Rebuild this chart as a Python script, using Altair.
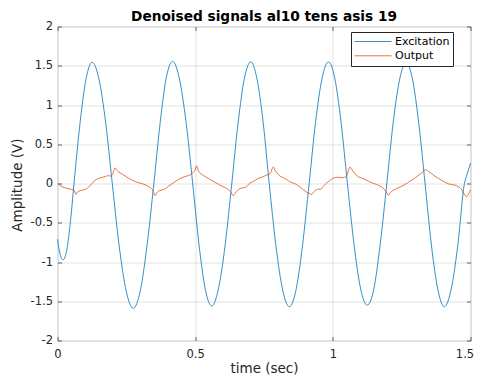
import altair as alt
import pandas as pd

# ---- data ----
t_exc = [0.000, 0.007, 0.014, 0.021, 0.034, 0.047, 0.060, 0.082, 0.104, 0.126,
         0.150, 0.175, 0.199, 0.224, 0.250, 0.275, 0.300, 0.325, 0.350, 0.373,
         0.395, 0.418, 0.442, 0.467, 0.491, 0.514, 0.537, 0.560, 0.584, 0.609,
         0.633, 0.656, 0.679, 0.702, 0.724, 0.747, 0.769, 0.793, 0.818, 0.842,
         0.866, 0.890, 0.914, 0.937, 0.961, 0.984, 1.007, 1.030, 1.053, 1.077,
         1.101, 1.125, 1.149, 1.172, 1.196, 1.219, 1.243, 1.266, 1.289, 1.312,
         1.335, 1.358, 1.382, 1.405, 1.429, 1.454, 1.478, 1.487, 1.500]
v_exc = [-0.71, -0.86, -0.95, -0.97, -0.84, -0.485, 0.0, 0.773, 1.338, 1.545,
         1.338, 0.773, 0.0, -0.795, -1.377, -1.59, -1.377, -0.795, 0.0, 0.778,
         1.347, 1.555, 1.347, 0.778, 0.0, -0.78, -1.351, -1.56, -1.351, -0.78,
         0.0, 0.775, 1.342, 1.55, 1.342, 0.775, 0.0, -0.785, -1.36, -1.57,
         -1.36, -0.785, 0.0, 0.775, 1.342, 1.55, 1.342, 0.775, 0.0, -0.775,
         -1.342, -1.55, -1.342, -0.775, 0.0, 0.77, 1.334, 1.54, 1.334, 0.77,
         0.0, -0.785, -1.36, -1.57, -1.36, -0.785, 0.0, 0.11, 0.26]

t_out = [0.000, 0.012, 0.027, 0.040, 0.052, 0.060, 0.067, 0.072, 0.078, 0.090,
         0.100, 0.112, 0.124, 0.136, 0.150, 0.165, 0.178, 0.185, 0.194, 0.200,
         0.209, 0.215, 0.223, 0.235, 0.250, 0.265, 0.282, 0.300, 0.318, 0.330,
         0.342, 0.348, 0.354, 0.360, 0.366, 0.378, 0.390, 0.403, 0.415, 0.427,
         0.439, 0.452, 0.469, 0.481, 0.493, 0.500, 0.505, 0.512, 0.524, 0.538,
         0.554, 0.570, 0.590, 0.605, 0.615, 0.627, 0.639, 0.645, 0.651, 0.663,
         0.675, 0.687, 0.699, 0.711, 0.729, 0.742, 0.755, 0.766, 0.772, 0.784,
         0.790, 0.796, 0.808, 0.820, 0.833, 0.845, 0.857, 0.869, 0.881, 0.893,
         0.905, 0.917, 0.923, 0.929, 0.935, 0.947, 0.955, 0.966, 0.978, 0.990,
         1.002, 1.020, 1.038, 1.050, 1.062, 1.068, 1.074, 1.084, 1.093, 1.105,
         1.117, 1.129, 1.141, 1.153, 1.165, 1.175, 1.183, 1.190, 1.196, 1.202,
         1.208, 1.214, 1.224, 1.232, 1.247, 1.262, 1.280, 1.299, 1.317, 1.329,
         1.337, 1.347, 1.359, 1.371, 1.384, 1.396, 1.408, 1.420, 1.432, 1.444,
         1.455, 1.462, 1.468, 1.474, 1.480, 1.486, 1.492, 1.500]
v_out = [0.00, -0.03, -0.055, -0.065, -0.076, -0.085, -0.14, -0.11, -0.098, -0.085,
         -0.076, -0.05, -0.005, 0.04, 0.065, 0.08, 0.095, 0.10, 0.094, 0.12,
         0.20, 0.17, 0.145, 0.12, 0.085, 0.055, 0.025, 0.005, -0.015, -0.04,
         -0.065, -0.10, -0.155, -0.12, -0.098, -0.085, -0.07, -0.035, -0.005, 0.025,
         0.05, 0.075, 0.094, 0.11, 0.14, 0.17, 0.225, 0.16, 0.115, 0.085,
         0.05, 0.02, -0.02, -0.045, -0.064, -0.098, -0.155, -0.125, -0.10, -0.064,
         -0.055, -0.04, 0.005, 0.025, 0.065, 0.08, 0.10, 0.115, 0.125, 0.21,
         0.17, 0.14, 0.094, 0.075, 0.05, 0.02, 0.005, -0.015, -0.045, -0.08,
         -0.11, -0.13, -0.14, -0.115, -0.095, -0.072, -0.074, -0.034, 0.008, 0.038,
         0.07, 0.08, 0.075, 0.095, 0.21, 0.18, 0.155, 0.11, 0.085, 0.07,
         0.05, 0.03, 0.01, -0.005, -0.02, -0.04, -0.06, -0.09, -0.12, -0.15,
         -0.12, -0.098, -0.08, -0.064, -0.04, -0.013, 0.03, 0.072, 0.12, 0.155,
         0.175, 0.155, 0.125, 0.093, 0.065, 0.038, 0.015, -0.004, -0.015, -0.021,
         -0.04, -0.055, -0.08, -0.12, -0.15, -0.17, -0.14, -0.08]

series_names = ["Excitation", "Output"]
series_colors = ["#0072BD", "#D95319"]
x_ticks = [0, 0.5, 1, 1.5]
y_ticks = [-2, -1.5, -1, -0.5, 0, 0.5, 1, 1.5, 2]
title_text = "Denoised signals al10 tens asis 19"
x_title = "time (sec)"
y_title = "Amplitude (V)"

df = pd.concat([
    pd.DataFrame({"t": t_exc, "v": v_exc, "series": series_names[0]}),
    pd.DataFrame({"t": t_out, "v": v_out, "series": series_names[1]}),
], ignore_index=True)

FONT = "DejaVu Sans"
AX = "#262626"
xs = alt.Scale(domain=[0, 1.5], nice=False, zero=False)
ys = alt.Scale(domain=[-2, 2], nice=False, zero=False)
inward = alt.ExprRef(expr="-4")

lines = alt.Chart(df).mark_line(strokeWidth=0.8, interpolate="monotone").encode(
    x=alt.X("t:Q", scale=xs, axis=alt.Axis(
        orient="bottom", values=x_ticks, labelExpr="datum.value + ''",
        title=x_title, titleFont=FONT, titleFontSize=13.5, titleFontWeight="normal",
        titleColor=AX, titleY=31.5, titleBaseline="alphabetic",
        labelFont=FONT, labelFontSize=11.5, labelColor=AX, labelPadding=11.5,
        labelOffset={"condition": {"test": "datum.value == 1.5", "value": -6}, "value": 0},
        labelFlush=False, tickSize=inward, tickColor=AX, tickWidth=0.7,
        domain=False, grid=True, gridColor=AX, gridOpacity=0.13, gridWidth=1)),
    y=alt.Y("v:Q", scale=ys, axis=alt.Axis(
        orient="left", values=y_ticks, labelExpr="datum.value + ''",
        title=y_title, titleFont=FONT, titleFontSize=13.5, titleFontWeight="normal",
        titleColor=AX, titleX=-40, titleY=158, titleAngle=270,
        titleAlign="center", titleBaseline="middle",
        labelFont=FONT, labelFontSize=11.5, labelColor=AX, labelPadding=9,
        labelFlush=False, tickSize=inward, tickColor=AX, tickWidth=0.7,
        domain=False, grid=True, gridColor=AX, gridOpacity=0.13, gridWidth=1)),
    color=alt.Color("series:N",
                    scale=alt.Scale(domain=series_names, range=series_colors),
                    legend=alt.Legend(
                        title=None, orient="none", legendX=293.5, legendY=5.5,
                        direction="vertical", fillColor="white", strokeColor=AX,
                        padding=3, symbolType="stroke", symbolSize=1369,
                        symbolStrokeWidth=0.8, clipHeight=13, rowPadding=1.3,
                        labelFont=FONT, labelFontSize=11, labelColor="#000000",
                        labelOffset=3)),
)

frame = alt.Chart(df).mark_line(opacity=0).encode(
    x=alt.X("t:Q", scale=xs, axis=alt.Axis(
        orient="top", values=x_ticks, labels=False, domain=False, grid=False,
        title=None, tickSize=inward, tickColor=AX, tickWidth=0.7)),
    y=alt.Y("v:Q", scale=ys, axis=alt.Axis(
        orient="right", values=y_ticks, labels=False, domain=False, grid=False,
        title=None, tickSize=inward, tickColor=AX, tickWidth=0.7)),
)

chart = alt.layer(lines, frame).resolve_axis(
    x="independent", y="independent"
).properties(
    width=413, height=314,
    title=alt.TitleParams(text=title_text, font=FONT, fontSize=13.7,
                          fontWeight="bold", color="#000000", anchor="middle",
                          frame="group", offset=0, dy=3.5),
    padding={"left": 49.5, "top": 18.5, "right": 3.5, "bottom": 34.5},
    autosize=alt.AutoSizeParams(type="none"),
).configure_view(
    stroke=AX, strokeWidth=0.8
).configure(background="white")

chart.save("out.html", embed_options={"renderer": "svg", "actions": False})
